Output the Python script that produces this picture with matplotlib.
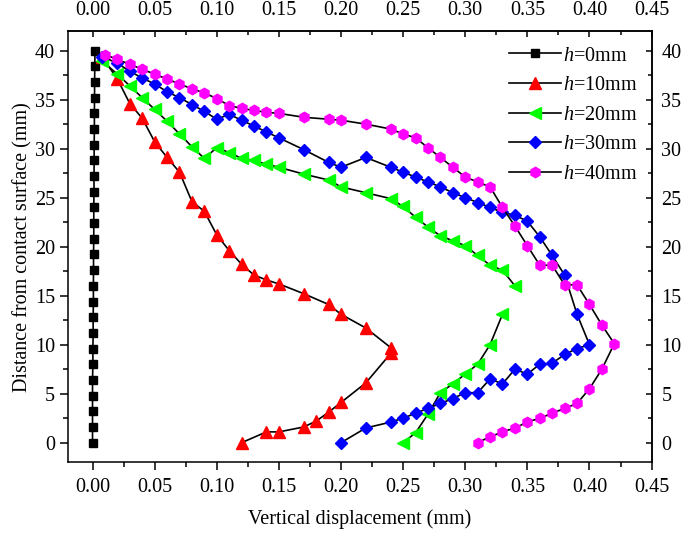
import numpy as np
import matplotlib.pyplot as plt
from matplotlib.ticker import MultipleLocator, FixedLocator

plt.rcParams['font.family'] = ['Liberation Serif', 'DejaVu Serif']
plt.rcParams['mathtext.fontset'] = 'custom'
plt.rcParams['mathtext.it'] = 'Liberation Serif:italic'
plt.rcParams['mathtext.rm'] = 'Liberation Serif'

# h = 0 mm
x0 = [0.0, 0.0, 0.0, 0.0, 0.0, 0.0003, 0.0003, 0.0005, 0.0005, 0.0007, 0.0007, 0.0008, 0.0008,
      0.001, 0.001, 0.001, 0.0012, 0.0012, 0.0013, 0.0013, 0.0015, 0.0015, 0.0016, 0.0017, 0.0018, 0.002]
y0 = [0.0, 1.6, 3.2, 4.8, 6.4, 8.0, 9.6, 11.2, 12.8, 14.4, 16.0, 17.6, 19.2,
      20.8, 22.4, 24.0, 25.6, 27.2, 28.8, 30.4, 32.0, 33.6, 35.2, 36.8, 38.4, 40.0]

# h = 10 mm
x10 = [0.008, 0.02, 0.03, 0.04, 0.05, 0.06, 0.07, 0.08, 0.09, 0.10, 0.11, 0.12, 0.13, 0.14, 0.15,
       0.17, 0.19, 0.20, 0.22, 0.24, 0.24, 0.22, 0.20, 0.19, 0.18, 0.17, 0.15, 0.14, 0.12]
y10 = [39.3, 37.1, 34.6, 33.1, 30.7, 29.1, 27.6, 24.6, 23.6, 21.2, 19.6, 18.2, 17.1, 16.6, 16.2,
       15.2, 14.1, 13.1, 11.7, 9.7, 9.1, 6.1, 4.1, 3.1, 2.2, 1.6, 1.1, 1.1, 0.0]

# h = 20 mm (upper and lower branch are not joined)
x20a = [0.008, 0.02, 0.03, 0.04, 0.05, 0.06, 0.07, 0.08, 0.09, 0.10, 0.11, 0.12, 0.13, 0.14, 0.15,
        0.17, 0.19, 0.20, 0.22, 0.24, 0.25, 0.26, 0.27, 0.28, 0.29, 0.30, 0.31, 0.32, 0.33, 0.34]
y20a = [38.9, 37.6, 36.4, 35.2, 34.0, 32.8, 31.5, 30.2, 29.0, 30.1, 29.6, 29.0, 28.8, 28.4, 28.1,
        27.4, 26.8, 26.1, 25.5, 24.9, 24.1, 23.0, 22.0, 21.1, 20.6, 20.1, 19.1, 18.1, 17.6, 16.0]
x20b = [0.33, 0.32, 0.31, 0.30, 0.29, 0.28, 0.27, 0.26, 0.25]
y20b = [13.1, 10.0, 8.0, 7.0, 6.0, 5.1, 2.9, 1.0, 0.0]

# h = 30 mm
x30 = [0.008, 0.02, 0.03, 0.04, 0.05, 0.06, 0.07, 0.08, 0.09, 0.10, 0.11, 0.12, 0.13, 0.14, 0.15,
       0.17, 0.19, 0.20, 0.22,
       0.24, 0.25, 0.26, 0.27, 0.28, 0.29, 0.30, 0.31, 0.32, 0.33, 0.34, 0.35, 0.36, 0.37, 0.38, 0.39, 0.40,
       0.39, 0.38, 0.37, 0.36, 0.35, 0.34, 0.33, 0.32, 0.31, 0.30, 0.29, 0.28, 0.27, 0.26, 0.25, 0.24,
       0.22, 0.20]
y30 = [39.4, 38.7, 37.9, 37.2, 36.6, 35.8, 35.2, 34.5, 33.8, 33.0, 33.5, 32.9, 32.3, 31.7, 31.1,
       29.9, 28.6, 28.1, 29.1,
       28.1, 27.6, 27.1, 26.6, 26.1, 25.5, 25.0, 24.5, 24.0, 23.5, 23.2, 22.6, 21.0, 19.1, 17.1, 13.1, 10.0,
       9.6, 9.0, 8.1, 8.0, 7.0, 7.5, 6.0, 6.5, 5.1, 5.1, 4.5, 4.0, 3.5, 3.0, 2.5, 2.1,
       1.5, 0.0]

# h = 40 mm
x40 = [0.01, 0.02, 0.03, 0.04, 0.05, 0.06, 0.07, 0.08, 0.09, 0.10, 0.11, 0.12, 0.13, 0.14, 0.15,
       0.17, 0.19, 0.20, 0.22,
       0.24, 0.25, 0.26, 0.27, 0.28, 0.29, 0.30, 0.31, 0.32, 0.33, 0.34, 0.35, 0.36, 0.37, 0.38, 0.39,
       0.40, 0.41, 0.42,
       0.41, 0.40, 0.39, 0.38, 0.37, 0.36, 0.35, 0.34, 0.33, 0.32, 0.31]
y40 = [39.6, 39.1, 38.6, 38.1, 37.6, 37.1, 36.6, 36.1, 35.7, 35.1, 34.4, 34.1, 33.9, 33.7, 33.6,
       33.2, 33.0, 32.9, 32.5,
       32.0, 31.5, 31.1, 30.1, 29.1, 28.1, 27.1, 26.6, 26.1, 24.0, 22.1, 20.1, 18.1, 18.1, 16.1, 16.1,
       14.1, 12.0, 10.1,
       7.5, 5.5, 4.0, 3.5, 3.0, 2.5, 2.1, 1.5, 1.1, 0.6, 0.0]

labels = [r'$h$=0mm', r'$h$=10mm', r'$h$=20mm', r'$h$=30mm', r'$h$=40mm']
xticks = [0.00, 0.05, 0.10, 0.15, 0.20, 0.25, 0.30, 0.35, 0.40, 0.45]
xminor = [0.025, 0.075, 0.125, 0.175, 0.225, 0.275, 0.325, 0.375, 0.425]
yticks = [0, 5, 10, 15, 20, 25, 30, 35, 40]
yminor = [2.5, 7.5, 12.5, 17.5, 22.5, 27.5, 32.5, 37.5]

series = [([(x0, y0)], 's', '#000000', 5.4),
          ([(x10, y10)], '^', '#ff0000', 8),
          ([(x20a, y20a), (x20b, y20b)], '<', '#00ff00', 8),
          ([(x30, y30)], 'D', '#0000ff', 6),
          ([(x40, y40)], 'h', '#ff00ff', 7.5)]

fig = plt.figure(figsize=(6.85, 5.33), dpi=100)
ax = fig.add_axes([0.0988, 0.1327, 0.8524, 0.8091])

for (parts, m, c, ms), lab in zip(series, labels):
    for i, (xs, ys) in enumerate(parts):
        ax.plot(xs, ys, color='k', lw=1.2, marker=m, ms=ms, mfc=c, mec=c,
                label=lab if i == 0 else None)

ax.set_xlim(-0.02, 0.45)
ax.set_ylim(-2, 42)
ax.set_xticks(xticks)
ax.set_yticks(yticks)
ax.xaxis.set_minor_locator(FixedLocator(xminor))
ax.yaxis.set_minor_locator(FixedLocator(yminor))
ax.xaxis.set_major_formatter(plt.FormatStrFormatter('%.2f'))
ax.tick_params(which='major', direction='out', length=5.5, width=1.1, labelsize=14.5)
ax.tick_params(axis='x', which='major', pad=6)
ax.tick_params(which='minor', direction='out', length=3.5, width=1.1)
for s in ax.spines.values():
    s.set_linewidth(1.1)

# top and right axes carry labels too, with ticks pointing inward
top = ax.secondary_xaxis('top')
top.set_xticks(xticks)
top.xaxis.set_minor_locator(FixedLocator(xminor))
top.xaxis.set_major_formatter(plt.FormatStrFormatter('%.2f'))
top.tick_params(which='major', direction='in', length=4.5, width=1.1, labelsize=14.5, pad=8)
top.tick_params(which='minor', direction='in', length=3, width=1.1)
top.spines['top'].set_linewidth(1.1)

right = ax.secondary_yaxis('right')
right.set_yticks(yticks)
right.yaxis.set_minor_locator(FixedLocator(yminor))
right.tick_params(which='major', direction='in', length=4.5, width=1.1, labelsize=14.5, pad=7)
right.tick_params(which='minor', direction='in', length=3, width=1.1)
right.spines['right'].set_linewidth(1.1)

ax.set_xlabel('Vertical displacement (mm)', fontsize=14.5, labelpad=9)
ax.set_ylabel('Distance from contact surface (mm)', fontsize=14.5, labelpad=2)

ax.legend(loc='upper right', frameon=False, fontsize=14.5, handlelength=2.6,
          handletextpad=0.1, labelspacing=0.52, borderaxespad=0.3,
          bbox_to_anchor=(1.0, 0.997))

fig.savefig('out.png', dpi=100)
